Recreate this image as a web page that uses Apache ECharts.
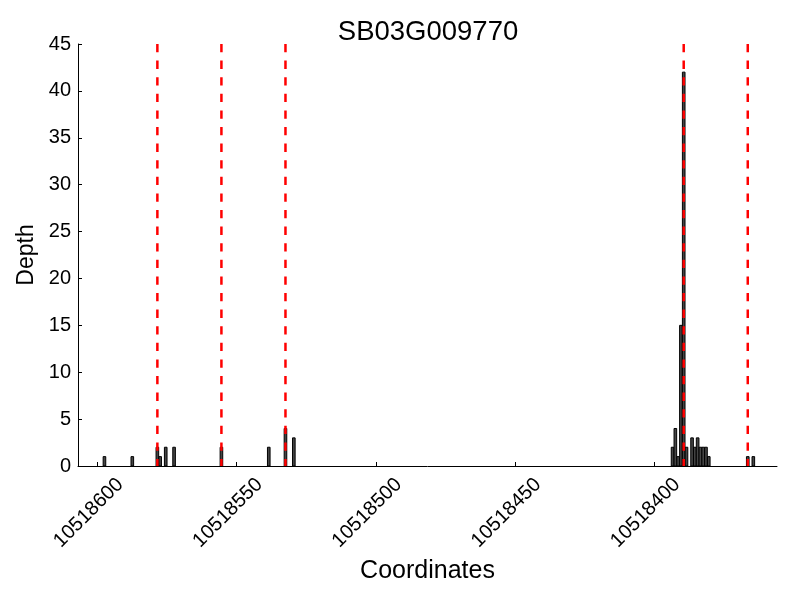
<!DOCTYPE html>
<html>
<head>
<meta charset="utf-8">
<script src="https://cdn.jsdelivr.net/npm/echarts@6/dist/echarts.min.js"></script>
<style>html,body{margin:0;padding:0;background:#fff}#c{width:800px;height:600px}</style>
</head>
<body>
<div id="c"></div>
<script>
// Genomic positions (bin end coordinate) and read depth
var positions = [10518598, 10518588, 10518579, 10518578, 10518576, 10518573, 10518556, 10518539, 10518533, 10518530,
                 10518394, 10518393, 10518392, 10518391, 10518390, 10518389, 10518387, 10518386, 10518385, 10518384,
                 10518383, 10518382, 10518381, 10518367, 10518365];
var depths = [1, 1, 2, 1, 2, 2, 2, 2, 4, 3,
              2, 4, 1, 15, 42, 2, 3, 2, 3, 2,
              2, 2, 1, 1, 1];
// Red dashed markers (exon boundaries)
var boundaries = [10518579, 10518556, 10518533, 10518390, 10518367];
var xTicks = [10518600, 10518550, 10518500, 10518450, 10518400];
var yTicks = [0, 5, 10, 15, 20, 25, 30, 35, 40, 45];
var title = 'SB03G009770';

var FONT = 'Liberation Sans, Arial, Helvetica, sans-serif';
var chart = echarts.init(document.getElementById('c'), null, {renderer: 'canvas'});
var barData = positions.map(function (p, i) { return [p, depths[i]]; });

chart.setOption({
  animation: false,
  backgroundColor: '#fff',
  title: {
    text: title, left: 423, top: 13, textAlign: 'center',
    textStyle: {fontFamily: FONT, fontSize: 27.5, fontWeight: 'normal', color: '#000'}
  },
  grid: {left: 78, right: 23, top: 44, bottom: 134, containLabel: false},
  xAxis: {
    type: 'value', inverse: true, min: 10518356, max: 10518607,
    name: 'Coordinates', nameLocation: 'middle', nameGap: 91,
    nameTextStyle: {fontFamily: FONT, fontSize: 25, color: '#000'},
    axisLine: {show: true, lineStyle: {color: '#000', width: 1}},
    axisTick: {show: true, inside: true, length: 4, lineStyle: {color: '#000'}, customValues: xTicks},
    axisLabel: {
      rotate: 45, margin: 38, align: 'center', verticalAlign: 'middle',
      padding: [0, 25, 0, 0],
      fontFamily: FONT, fontSize: 20, color: '#000',
      customValues: xTicks, formatter: function (v) { return String(v); }
    },
    splitLine: {show: false}
  },
  yAxis: {
    type: 'value', min: 0, max: 45, interval: 5,
    name: 'Depth', nameLocation: 'middle', nameGap: 37, nameRotate: 90,
    nameTextStyle: {fontFamily: FONT, fontSize: 23, color: '#000'},
    axisLine: {show: true, lineStyle: {color: '#000', width: 1}},
    axisTick: {show: true, inside: true, length: 4, lineStyle: {color: '#000'}},
    axisLabel: {margin: 7, fontFamily: FONT, fontSize: 20, color: '#000'},
    splitLine: {show: false}
  },
  series: [
    {
      type: 'custom', z: 2,
      data: barData,
      renderItem: function (params, api) {
        var p = api.value(0), v = api.value(1);
        var a = api.coord([p - 0.97, v]);
        var b = api.coord([p - 0.03, 0]);
        var x = Math.min(a[0], b[0]), w = Math.abs(b[0] - a[0]);
        return {
          type: 'rect',
          shape: {x: x, y: a[1], width: w, height: b[1] - a[1]},
          style: {fill: '#454545', stroke: '#000', lineWidth: 1}
        };
      }
    },
    {
      type: 'custom', z: 5,
      data: boundaries.map(function (b) { return [b]; }),
      renderItem: function (params, api) {
        var top = api.coord([api.value(0) - 0.5, 45]);
        var bot = api.coord([api.value(0) - 0.5, 0]);
        return {
          type: 'line',
          shape: {x1: top[0], y1: top[1], x2: bot[0], y2: bot[1]},
          style: {stroke: '#ff0000', lineWidth: 2.5, lineDash: [8.3, 8.3]}
        };
      }
    }
  ]
});
</script>
</body>
</html>
